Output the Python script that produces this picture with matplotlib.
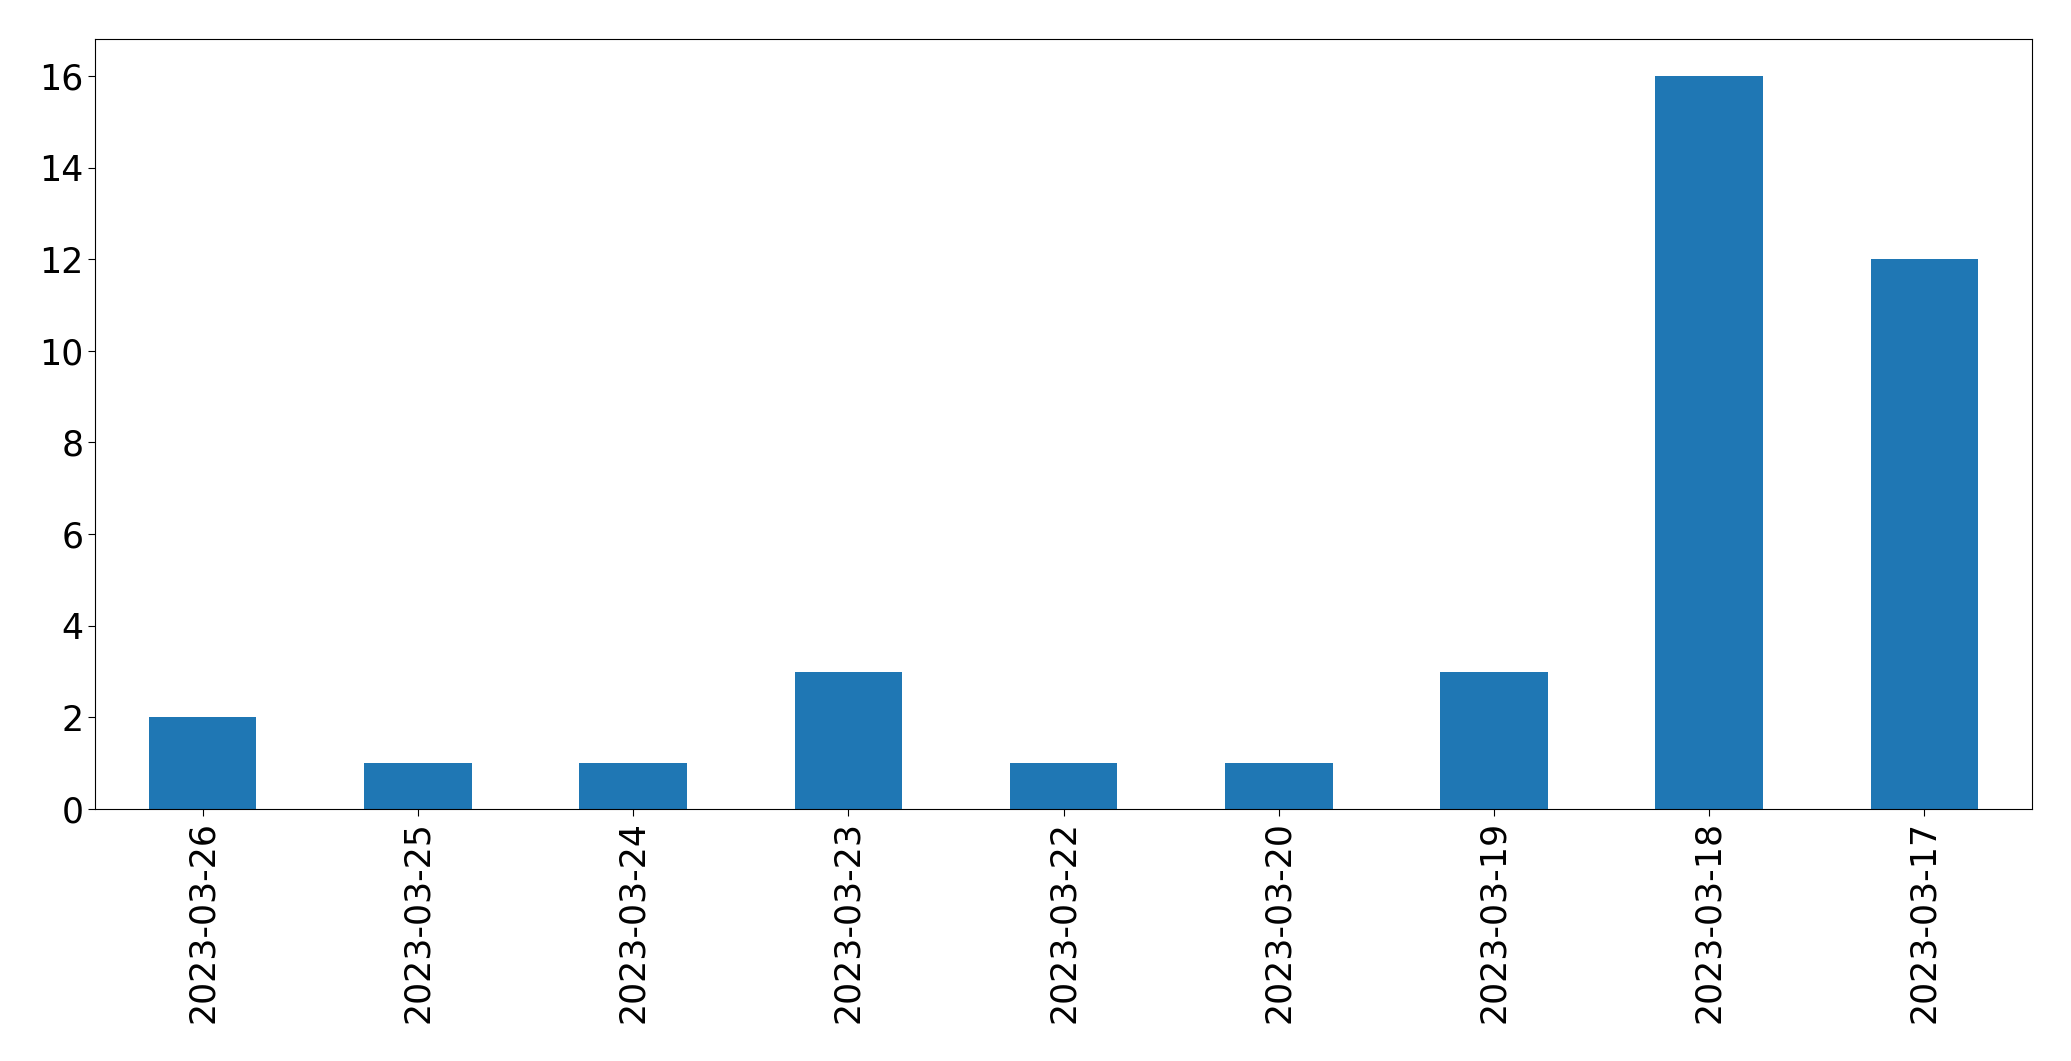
import pandas as pd
import matplotlib
matplotlib.use('Agg')
import matplotlib.pyplot as plt

# Counts per day
dates = ['2023-03-26', '2023-03-25', '2023-03-24', '2023-03-23', '2023-03-22',
         '2023-03-20', '2023-03-19', '2023-03-18', '2023-03-17']
counts = [2, 1, 1, 3, 1, 1, 3, 16, 12]

s = pd.Series(counts, index=dates)

fig = plt.figure(figsize=(20.71, 10.61), dpi=100)
ax = fig.add_axes([0.0459, 0.2375, 0.9353, 0.7255])
s.plot(kind='bar', ax=ax, color='#1f77b4')
ax.tick_params(axis='both', labelsize=25, length=5)
ax.set_yticks(range(0, 17, 2))

fig.savefig('out.png', dpi=100)
